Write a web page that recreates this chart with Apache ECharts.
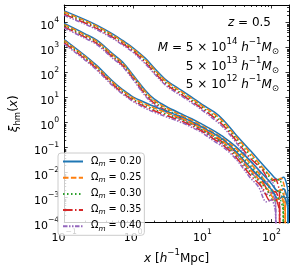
<!DOCTYPE html>
<html><head><meta charset="utf-8">
<script src="https://cdn.jsdelivr.net/npm/echarts@6/dist/echarts.min.js"></script>
<style>html,body{margin:0;padding:0;background:#fff}#c{width:294px;height:273px}</style>
</head><body><div id="c"></div>
<script>
const FONT = 'DejaVu Sans';
// ---- data ----
const omegaNames = ['0.20', '0.25', '0.30', '0.35', '0.40'];
const colors = ['#1f77b4', '#ff7f0e', '#2ca02c', '#d62728', '#9467bd'];
const xBase = [0.1, 0.2, 0.3, 0.5, 0.7, 1, 1.5, 2, 3, 5, 7, 10, 15, 20, 30, 50];
const xTail = [
  [98, 128, 150, 165, 173, 178],
  [89, 117, 138, 151, 158, 162],
  [84, 110, 129, 141, 148, 152],
  [74, 97, 114, 125, 131, 134],
  [65, 85, 100, 110, 115, 118]
];
// M = 5e14
const m14Base = [
  [29100, 13000, 7710, 3530, 1920, 958, 368, 154, 49.9, 19.2, 10.4, 5.21, 2.60, 1.30, 0.352, 0.0738],
  [26200, 11700, 6950, 3180, 1730, 863, 323, 135, 43.8, 16.9, 9.13, 4.57, 2.19, 1.09, 0.296, 0.0594],
  [23600, 10600, 6260, 2870, 1560, 778, 284, 119, 38.5, 14.8, 8.02, 4.02, 1.84, 0.919, 0.249, 0.0478],
  [21300, 9520, 5640, 2580, 1410, 701, 249, 104, 33.8, 13.0, 7.04, 3.53, 1.54, 0.772, 0.209, 0.0369],
  [19200, 8570, 5080, 2330, 1270, 631, 219, 91.5, 29.6, 11.4, 6.18, 3.09, 1.30, 0.65, 0.176, 0.0284]
];
const m14Tail = [
  [0.0092, 0.0050, 0.0065, 0.00385, 0.00176, 1e-9],
  [0.0092, 0.00457, 0.00594, 0.00353, 0.00161, 1e-9],
  [0.0100, 0.00457, 0.00545, 0.00323, 0.00148, 1e-9],
  [0.0130, 0.00457, 0.00545, 0.00323, 0.00148, 1e-9],
  [0.0130, 0.0042, 0.00457, 0.00272, 0.00124, 1e-9]
];
// M = 5e13
const m13Base = [
  [9170, 3530, 1920, 569, 260, 77.1, 19.2, 8.78, 4.38, 2.19, 1.42, 0.841, 0.457, 0.272, 0.114, 0.0284],
  [8260, 3180, 1730, 513, 234, 69.5, 16.9, 7.71, 3.85, 1.92, 1.25, 0.738, 0.384, 0.229, 0.0959, 0.0229],
  [7450, 2870, 1560, 462, 211, 62.6, 14.8, 6.77, 3.38, 1.69, 1.09, 0.648, 0.323, 0.192, 0.0806, 0.0184],
  [6710, 2580, 1410, 417, 190, 56.4, 13.0, 5.94, 2.97, 1.48, 0.961, 0.569, 0.271, 0.162, 0.0677, 0.0142],
  [6040, 2330, 1270, 375, 171, 50.8, 11.4, 5.22, 2.60, 1.30, 0.843, 0.50, 0.229, 0.136, 0.057, 0.0109]
];
const m13Tail = [
  [0.00385, 0.00176, 0.00228, 0.00135, 0.00068, 1e-9],
  [0.00353, 0.00161, 0.00209, 0.00124, 0.00062, 1e-9],
  [0.00385, 0.00148, 0.00192, 0.00114, 0.00057, 1e-9],
  [0.00457, 0.00148, 0.00176, 0.00104, 0.00052, 1e-9],
  [0.00457, 0.00135, 0.00161, 0.00096, 0.00048, 1e-9]
];
// M = 5e12
const m12Base = [
  [2090, 478, 184, 45.8, 20.9, 10.4, 6.20, 4.38, 2.84, 1.68, 1.09, 0.648, 0.352, 0.209, 0.0738, 0.0155],
  [1880, 431, 166, 41.3, 18.8, 9.37, 5.44, 3.85, 2.49, 1.48, 0.957, 0.569, 0.296, 0.176, 0.0621, 0.0125],
  [1700, 388, 149, 37.2, 17.0, 8.44, 4.78, 3.38, 2.19, 1.30, 0.840, 0.50, 0.249, 0.148, 0.0522, 0.0100],
  [1530, 350, 135, 33.5, 15.3, 7.61, 4.20, 2.97, 1.92, 1.14, 0.738, 0.439, 0.209, 0.124, 0.0438, 0.00775],
  [1380, 315, 121, 30.2, 13.8, 6.85, 3.68, 2.60, 1.69, 1.0, 0.647, 0.385, 0.176, 0.105, 0.0369, 0.00597]
];
const m12Tail = [
  [0.00228, 0.00088, 0.00114, 0.00068, 0.00034, 1e-9],
  [0.00209, 0.0008, 0.00104, 0.00062, 0.00031, 1e-9],
  [0.00228, 0.00074, 0.00096, 0.00057, 0.000284, 1e-9],
  [0.00249, 0.00074, 0.00088, 0.00052, 0.00026, 1e-9],
  [0.00272, 0.00068, 0.0008, 0.00048, 0.000238, 1e-9]
];
const xMajor = [0.1, 1, 10, 100];
const yMajor = [1e-4, 1e-3, 1e-2, 1e-1, 1, 10, 100, 1e3, 1e4];
const xRange = [0.1, 180];
const yRange = [1e-4, 5e4];

// ---- styles ----
const dashes = ['solid', [5.5, 2.4], [1.5, 2.5], [9.6, 2.4, 1.5, 2.4], [4.5, 1.5, 1.5, 1.5, 1.5, 1.5]];
const series = [];
[[m14Base, m14Tail], [m13Base, m13Tail], [m12Base, m12Tail]].forEach(([base, tail]) => {
  for (let i = 0; i < 5; i++) {
    const xs = xBase.concat(xTail[i]);
    const ys = base[i].concat(tail[i]);
    series.push({
      type: 'line', name: omegaNames[i], data: xs.map((x, k) => [x, ys[k]]),
      showSymbol: false, symbol: 'none', smooth: 0.35, clip: true,
      lineStyle: { color: colors[i], width: 1.5, type: dashes[i] },
      itemStyle: { color: colors[i] }
    });
  }
});
// minor ticks
const xMinor = [], yMinor = [];
xMajor.forEach(d => { for (let k = 2; k <= 9; k++) { if (k * d <= xRange[1]) xMinor.push(k * d); } });
yMajor.forEach(d => { for (let k = 2; k <= 9; k++) { if (k * d <= yRange[1]) yMinor.push(k * d); } });
series.push({
  type: 'custom', silent: true, clip: false, data: xMinor.map(v => [v, 1]),
  renderItem: (p, api) => {
    const cs = p.coordSys; const x = Math.round(api.coord([api.value(0), 1])[0]) + 0.5;
    return { type: 'group', children: [
      { type: 'line', shape: { x1: x, y1: cs.y + cs.height, x2: x, y2: cs.y + cs.height - 2 }, style: { stroke: '#000', lineWidth: 0.8 } },
      { type: 'line', shape: { x1: x, y1: cs.y, x2: x, y2: cs.y + 2 }, style: { stroke: '#000', lineWidth: 0.8 } }
    ]};
  }
});
series.push({
  type: 'custom', silent: true, clip: false, data: yMinor.map(v => [1, v]),
  renderItem: (p, api) => {
    const cs = p.coordSys; const y = Math.round(api.coord([1, api.value(1)])[1]) + 0.5;
    return { type: 'group', children: [
      { type: 'line', shape: { x1: cs.x, y1: y, x2: cs.x + 2, y2: y }, style: { stroke: '#000', lineWidth: 0.8 } },
      { type: 'line', shape: { x1: cs.x + cs.width, y1: y, x2: cs.x + cs.width - 2, y2: y }, style: { stroke: '#000', lineWidth: 0.8 } }
    ]};
  }
});

function sup(e) { return e < 0 ? '\u2212' + (-e) : '' + e; }
function powLabel(v) { const e = Math.round(Math.log10(v)); return '{b|10}{s|' + sup(e) + '}'; }
const tickRich = {
  b: { fontFamily: FONT, fontSize: 11, lineHeight: 18, verticalAlign: 'bottom', padding: [0, 0, 0, 0], color: '#000' },
  s: { fontFamily: FONT, fontSize: 7.7, lineHeight: 18, verticalAlign: 'bottom', padding: [0, 0, 7.5, 0], color: '#000' }
};
const axisCommon = {
  type: 'log', logBase: 10, splitLine: { show: false },
  axisLine: { show: true, lineStyle: { color: '#000', width: 1 } },
  axisTick: { show: true, inside: true, length: 3.5, lineStyle: { color: '#000', width: 0.8 } },
  minorTick: { show: false }
};
const annRich = {
  n: { fontFamily: FONT, fontSize: 12, lineHeight: 22, verticalAlign: 'bottom', padding: [0, 0, 3, 0], color: '#000' },
  i: { fontFamily: FONT, fontSize: 12, fontStyle: 'italic', lineHeight: 22, verticalAlign: 'bottom', padding: [0, 0, 3, 0], color: '#000' },
  p: { fontFamily: FONT, fontSize: 8.6, lineHeight: 22, verticalAlign: 'bottom', padding: [0, 0, 10.5, 0], color: '#000' },
  d: { fontFamily: FONT, fontSize: 8.6, lineHeight: 22, verticalAlign: 'bottom', padding: [0, 0, 0.5, 0], color: '#000' }
};
const massExp = ['14', '13', '12'];
const graphic = [
  { type: 'text', x: 271, y: 21, style: { text: '{i|z}{n| = 0.5}', rich: annRich, align: 'right', verticalAlign: 'middle' } }
];
massExp.forEach((e, k) => {
  const pre = k === 0 ? '{i|M}{n| = 5 × 10}' : '{n|5 × 10}';
  graphic.push({ type: 'text', x: 279, y: 46 + k * 18.5,
    style: { text: pre + '{p|' + e + '}{i| h}{p|\u22121}{i|M}{d|\u2299}', rich: annRich, align: 'right', verticalAlign: 'middle' } });
});

const option = {
  animation: false,
  backgroundColor: '#fff',
  grid: { left: 53, right: 5, top: 5, bottom: 37 },
  xAxis: [
    Object.assign({}, axisCommon, { position: 'bottom', min: xRange[0], max: xRange[1],
      axisLabel: { margin: 3, showMaxLabel: false, formatter: powLabel, rich: tickRich },
      name: '{i|x}{n| [}{i|h}{p|\u22121}{n|Mpc]}', nameLocation: 'middle', nameGap: 15,
      nameTextStyle: { rich: { i: Object.assign({}, annRich.i, { fontSize: 12 }), n: Object.assign({}, annRich.n, { fontSize: 12 }), p: annRich.p } } }),
    Object.assign({}, axisCommon, { position: 'top', min: xRange[0], max: xRange[1], axisLabel: { show: false } })
  ],
  yAxis: [
    Object.assign({}, axisCommon, { position: 'left', min: yRange[0], max: yRange[1],
      axisLabel: { margin: 5, showMaxLabel: false, formatter: powLabel, rich: tickRich },
      name: '{i|ξ}{d|hm}{n|(}{i|x}{n|)}', nameLocation: 'middle', nameGap: 32, nameRotate: 90,
      nameTextStyle: { rich: { i: Object.assign({}, annRich.i, { fontSize: 12 }), n: Object.assign({}, annRich.n, { fontSize: 12 }), d: Object.assign({}, annRich.d, { fontSize: 8.5 }) } } }),
    Object.assign({}, axisCommon, { position: 'right', min: yRange[0], max: yRange[1], axisLabel: { show: false } })
  ],
  legend: {
    data: omegaNames, orient: 'vertical', left: 58, top: 153,
    itemWidth: 20, itemHeight: 10, itemGap: 4.7,
    itemStyle: { opacity: 0 },
    padding: [3, 3, 3, 4], borderColor: '#cccccc', borderWidth: 1, borderRadius: 3,
    backgroundColor: 'rgba(255,255,255,0.8)',
    formatter: n => '{a|Ω}{s|m}{a| = ' + n + '}',
    textStyle: { padding: [0, 0, 0, 3], rich: {
      a: { fontFamily: FONT, fontSize: 9.7, lineHeight: 12, verticalAlign: 'bottom', padding: [0, 0, 1.5, 0], color: '#000' },
      s: { fontFamily: FONT, fontSize: 7.3, fontStyle: 'italic', lineHeight: 12, verticalAlign: 'bottom', padding: [0, 0, 0, 0], color: '#000' }
    } }
  },
  graphic: graphic,
  series: series
};
const chart = echarts.init(document.getElementById('c'), null, { renderer: 'canvas' });
chart.setOption(option);
</script></body></html>
